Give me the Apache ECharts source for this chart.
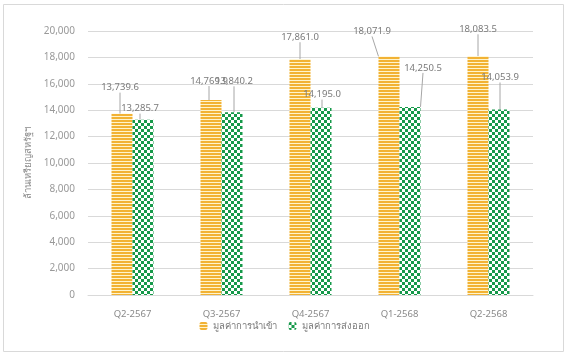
<!DOCTYPE html>
<html><head><meta charset="utf-8">
<script src="https://cdn.jsdelivr.net/npm/echarts@6/dist/echarts.min.js"></script>
<style>html,body{margin:0;padding:0;background:#fff}#c{width:569px;height:356px}</style>
</head><body><div id="c"></div>
<script>
const categories = ['Q2-2567','Q3-2567','Q4-2567','Q1-2568','Q2-2568'];
const importValues = [13739.6, 14769.9, 17861.0, 18071.9, 18083.5];
const exportValues = [13285.7, 13840.2, 14195.0, 14250.5, 14053.9];
const seriesNames = ['มูลค่าการนำเข้า','มูลค่าการส่งออก'];
const yAxisName = 'ล้านเหรียญสหรัฐฯ';
// label nudges (px) for the moved data labels
const importLabelShift = [[-2,-17],[-2,-10],[0,-13],[-17,-16],[0,-18]];
const exportLabelShift = [[-3,-2],[2,-22],[1,-4],[13,-30],[1,-23]];

function stripes(){
  const c=document.createElement('canvas');c.width=4;c.height=3;
  const g=c.getContext('2d');g.fillStyle='#FFF4CC';g.fillRect(0,0,4,3);
  g.fillStyle='#F2B234';g.fillRect(0,0,4,2);return c;
}
function checker(){
  const c=document.createElement('canvas');c.width=6;c.height=6;
  const g=c.getContext('2d');g.fillStyle='#ffffff';g.fillRect(0,0,6,6);
  g.fillStyle='#16994A';g.fillRect(0,0,3,3);g.fillRect(3,3,3,3);return c;
}
const fmt=v=>v.toLocaleString('en-US',{minimumFractionDigits:1,maximumFractionDigits:1});
const chart=echarts.init(document.getElementById('c'),null,{renderer:'canvas'});
const font='"Noto Sans", "DejaVu Sans", sans-serif';
function mkSeries(name,data,pattern,shift){
  return {
    name:name,type:'bar',data:data,barWidth:21,barGap:'0%',
    itemStyle:{color:{image:pattern,repeat:'repeat'}},
    label:{show:true,position:'top',distance:4,color:'#7a7a7a',fontSize:9.5,fontFamily:font,
      formatter:p=>fmt(p.value)},
    labelLine:{show:true,lineStyle:{color:'#a6a6a6',width:1}},
    labelLayout:function(p){const s=shift[p.dataIndex];return {dx:s[0],dy:s[1]};}
  };
}
chart.setOption({
  animation:false,
  textStyle:{fontFamily:font},
  graphic:[{type:'rect',shape:{x:3.5,y:4.5,width:560,height:347},style:{fill:'none',stroke:'#d9d9d9',lineWidth:1}}],
  grid:{left:88,right:36,top:31,bottom:61},
  legend:{bottom:20,left:'center',itemWidth:8,itemHeight:8,itemGap:12,
    textStyle:{color:'#7a7a7a',fontSize:9.5,fontFamily:font},data:seriesNames},
  xAxis:{type:'category',data:categories,
    axisLine:{lineStyle:{color:'#d9d9d9'}},axisTick:{show:false},
    axisLabel:{color:'#8a8a8a',fontSize:9.5,margin:14,fontFamily:font}},
  yAxis:{type:'value',min:0,max:20000,interval:2000,
    name:yAxisName,nameLocation:'middle',nameGap:48,nameRotate:90,
    nameTextStyle:{color:'#8a8a8a',fontSize:9.5,fontFamily:font},
    axisLine:{show:false},axisTick:{show:false},
    axisLabel:{color:'#999999',fontSize:10,margin:13,fontFamily:font,formatter:v=>v.toLocaleString('en-US')},
    splitLine:{lineStyle:{color:'#d9d9d9'}}},
  series:[mkSeries(seriesNames[0],importValues,stripes(),importLabelShift),
          mkSeries(seriesNames[1],exportValues,checker(),exportLabelShift)]
});
</script></body></html>
